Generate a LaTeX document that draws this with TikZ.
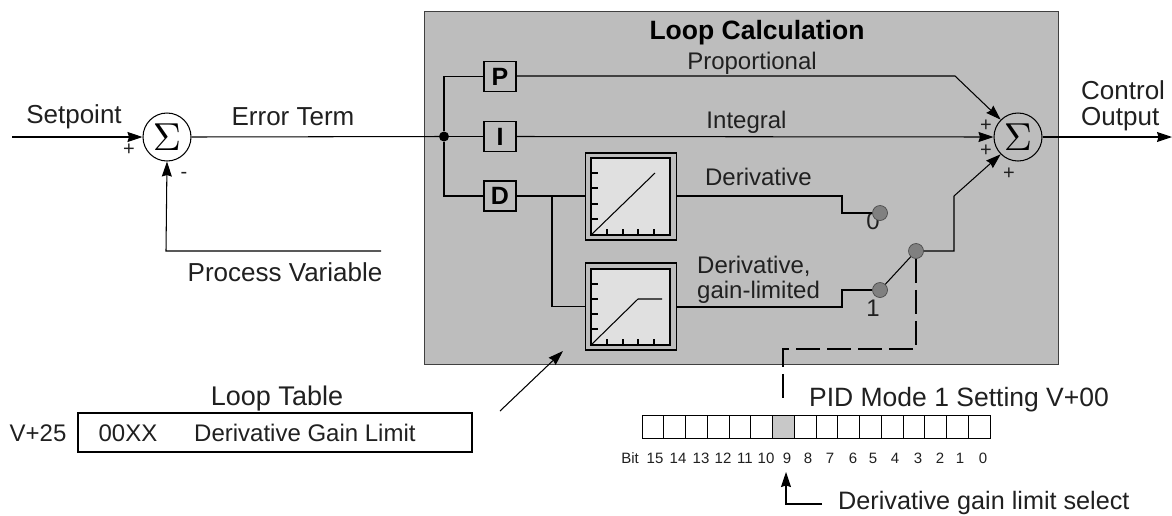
\documentclass[tikz,border=0pt]{standalone}
\usepackage{fontspec}
\usepackage{graphicx}
\setmainfont{Liberation Sans}
\usetikzlibrary{arrows.meta,calc}
\definecolor{panelgray}{HTML}{BDBDBD}
\definecolor{scopegray}{HTML}{E0E0E0}
\definecolor{dotgray}{HTML}{808080}
\definecolor{cellgray}{HTML}{C8C8C8}
\definecolor{inkgray}{HTML}{202020}
\tikzset{
  wire/.style={draw=black,line width=1.05pt},
  arr/.style={wire,-{Stealth[length=15pt,width=10pt,inset=1.5pt]}},
  lbl/.style={font=\fontsize{26}{28}\selectfont,text=inkgray,inner sep=0pt},
  lblin/.style={lbl,font=\fontsize{24}{26}\selectfont},
  lblw/.style={lblin,anchor=west},
  small/.style={font=\fontsize{20}{20}\selectfont,text=inkgray,inner sep=0pt},
  bitlbl/.style={font=\fontsize{15}{16}\selectfont,text=inkgray,inner sep=0pt},
  sumnode/.style={circle,draw=black,line width=1.05pt,fill=white,minimum size=48pt,inner sep=0pt},
  sumgray/.style={sumnode,fill=panelgray},
  termbox/.style={draw=black,line width=1.05pt,fill=panelgray,minimum width=32pt,minimum height=30pt,inner sep=0pt,font=\fontsize{25}{25}\selectfont\bfseries},
  scopeouter/.style={draw=black,line width=1.05pt,fill=panelgray,minimum width=91pt,minimum height=87pt,inner sep=0pt},
  screen/.style={draw=black,line width=1.05pt,fill=scopegray},
  tick/.style={draw=black,line width=1.05pt},
  contact/.style={circle,draw=black!70,line width=0.7pt,fill=dotgray,minimum size=15pt,inner sep=0pt},
  bitcell/.style={draw=black,line width=0.8pt,minimum width=21.75pt,minimum height=23pt,inner sep=0pt},
  dash line/.style={draw=black,line width=1.05pt,dash pattern=on 24pt off 7pt}
}
\newcommand{\sumsym}{\scalebox{3.9}{$\Sigma$}}
\begin{document}
\begin{tikzpicture}[x=1pt,y=-1pt]
\useasboundingbox (0,0) rectangle (1172,515);
\fill[white] (0,0) rectangle (1172,515);
% panel
\node[draw=black!75,line width=1pt,fill=panelgray,minimum width=634pt,minimum height=353pt,inner sep=0pt] (panel) at (741,187.5) {};
\node[lbl,font=\fontsize{26.5}{28}\selectfont\bfseries,text=black] (title) at (757,33) {Loop Calculation};
% sums
\node[sumnode] (s1) at (167,137) {\sumsym};
\node[sumgray] (s2) at (1018,137) {\sumsym};
% coordinates
\coordinate (spin) at (12,137);
\coordinate (pvend) at (381,251);
\coordinate (pvcorner) at (166,251);
\node[circle,fill=black,minimum size=10pt,inner sep=0pt] (j) at (444,136.5) {};
\node[termbox] (P) at (500,76.5) {P};
\node[termbox] (I) at (500,136.5) {I};
\node[termbox] (D) at (500,196) {D};
\coordinate (pcorner) at (955,76);
\coordinate (outend) at (1172,137);
% main wires
\draw[arr] (spin) -- (s1.west);
\draw[arr] (pvend) -- (pvcorner) -- (s1.south);
\draw[wire] (s1.east) -- (j);
\draw[wire] (j) |- (P.west);
\draw[wire] (j) -- (I.west);
\draw[wire] (j) |- (D.west);
\draw[arr] (P.east |- pcorner) -- (pcorner) -- (s2.135);
\draw[arr] (I.east) -- (s2.west);
\draw[arr] (s2.east) -- (outend);
% scopes
\node[scopeouter] (scA) at (631,196.5) {};
\node[scopeouter] (scB) at (631,306.5) {};
\draw[screen] (591,158) rectangle (670,235);
\draw[screen] (591,269) rectangle (670,345);
\foreach \y in {173,188,204,219} \draw[tick] (591,\y) -- (598,\y);
\foreach \x in {607,623,638,654} \draw[tick] (\x,235) -- (\x,229);
\draw[tick] (591,235) -- (655,173);
\foreach \y in {284,299,314,329} \draw[tick] (591,\y) -- (598,\y);
\foreach \x in {607,623,638,654} \draw[tick] (\x,345) -- (\x,339);
\draw[tick] (591,345) -- (638,299) -- (662,299);
\coordinate (dbr) at (552,196);
\draw[wire] (D.east) -- (scA.west |- D.east);
\draw[wire] (dbr) |- (scB.west);
% labels in panel below contacts
\node[lblin] (zero) at (873,221) {0};
\node[lblin] (one) at (873,308) {1};
% contacts
\coordinate (a1) at (842,196);
\coordinate (a2) at (842,213);
\coordinate (b1) at (842,307);
\coordinate (b2) at (842,290);
\coordinate (r1) at (954,251);
\coordinate (r2) at (954,196);
\node[contact] (c0) at (880,213) {};
\node[contact] (c1) at (880,290) {};
\node[contact] (cc) at (916,251) {};
\draw[wire] (scA.east |- a1) -- (a1) -- (a2) -- (c0);
\draw[wire] (scB.east |- b1) -- (b1) -- (b2) -- (c1);
\draw[wire] (c1) -- (cc);
\draw[arr] (cc) -- (r1) -- (r2) -- (s2.225);
\node[lblin] (lprop) at (752,63.5) {Proportional};
\node[lblin] (lint) at (746.5,122) {Integral};
\node[lblin] (lder) at (758.5,177) {Derivative};
\node[lblw] (lderg) at (697,266) {Derivative,};
\node[lblw] (lgain) at (697,292) {gain-limited};
\node[small] (pa1) at (986,126) {+};
\node[small] (pa2) at (986,151) {+};
\node[small] (pa3) at (1009,174) {+};
\node[small] (pa4) at (129,150) {+};
\node[small] (mi1) at (184,175) {-};
% outer labels
\node[lbl] (lsp) at (74,117) {Setpoint};
\node[lbl] (lerr) at (293,117) {Error Term};
\node[lbl] (lpv) at (285,272) {Process Variable};
\node[lbl,anchor=west] (lc1) at (1081,90) {Control};
\node[lbl,anchor=west] (lc2) at (1081,119.5) {Output};
% loop table
\node[lbl,font=\fontsize{27}{28}\selectfont] (ltt) at (277,399) {Loop Table};
\node[lblin] (lv) at (38,433) {V+25};
\node[draw=black,line width=1.05pt,minimum width=394pt,minimum height=39pt,inner sep=0pt] (ltb) at (275,432.5) {};
\node[lblin] (l00) at (128,433) {00XX};
\node[lblw] (ldg) at (194,433) {Derivative Gain Limit};
\coordinate (pa) at (500,411);
\coordinate (pb) at (563,351);
\draw[arr] (pa) -- (pb);
% bits
\foreach \i in {0,...,15} {
  \pgfmathsetmacro{\cx}{642+21.75*(\i+0.5)}
  \node[bitcell] (cell\i) at (\cx,426.5) {};
}
\node[bitcell,fill=cellgray] (cell6) at ({642+21.75*6.5},426.5) {};
\node[lbl,font=\fontsize{26.5}{28}\selectfont] (lpid) at (959,400) {PID Mode 1 Setting V+00};
\node[bitlbl] (lbit) at (630,458.5) {Bit};
\foreach \n/\x in {15/655,14/678,13/701,12/723,11/745,10/766,9/787,8/808,7/830,6/853,5/873,4/895,3/918,2/940,1/960,0/983}
  \node[bitlbl] (b\n) at (\x,458.5) {\n};
% dashed
\coordinate (d1) at (916,349);
\coordinate (d2) at (783,349);
\coordinate (d3) at (783,404);
\draw[dash line] (cc) -- (d1) -- (d2) -- (d3);
% bottom arrow
\coordinate (e1) at (786,504);
\coordinate (e2) at (822,504);
\coordinate (e3) at (786,472);
\draw[arr] (e2) -- (e1) -- (e3);
\node[lbl,anchor=west,font=\fontsize{25.2}{27}\selectfont] (lsel) at (838,503) {Derivative gain limit select};
\end{tikzpicture}
\end{document}
